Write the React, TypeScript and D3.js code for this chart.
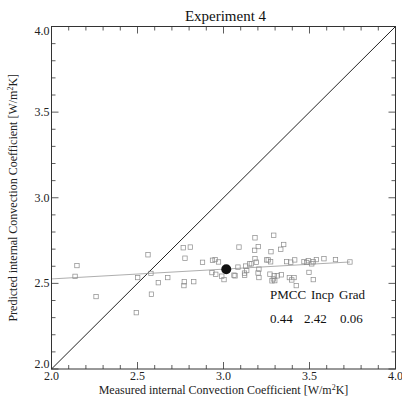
import React from 'react'
import * as d3 from 'd3'

const measured = [
  2.137, 2.148, 2.259, 2.493, 2.501, 2.561, 2.578, 2.581, 2.621, 2.676,
  2.766, 2.807, 2.776, 2.772, 2.770, 2.827, 2.878, 2.936, 2.951, 2.971,
  2.933, 2.955, 2.990, 3.003, 3.061, 3.067, 3.084, 3.090, 3.129, 3.135,
  3.122, 3.123, 3.152, 3.183, 3.292, 3.202, 3.181, 3.276, 3.333, 3.350,
  3.183, 3.191, 3.162, 3.251, 3.260, 3.274, 3.206, 3.201, 3.206, 3.270,
  3.295, 3.313, 3.336, 3.290, 3.282, 3.298, 3.383, 3.397, 3.410, 3.423,
  3.367, 3.391, 3.414, 3.468, 3.484, 3.493, 3.513, 3.522, 3.540, 3.584,
  3.651, 3.735, 3.497, 3.522,
]
const predicted = [
  2.541, 2.604, 2.423, 2.329, 2.534, 2.667, 2.558, 2.437, 2.504, 2.534,
  2.708, 2.712, 2.647, 2.509, 2.487, 2.510, 2.623, 2.635, 2.639, 2.625,
  2.563, 2.553, 2.542, 2.522, 2.548, 2.544, 2.595, 2.712, 2.601, 2.575,
  2.560, 2.548, 2.614, 2.766, 2.781, 2.715, 2.693, 2.685, 2.699, 2.727,
  2.645, 2.624, 2.614, 2.637, 2.637, 2.626, 2.583, 2.561, 2.534, 2.554,
  2.544, 2.544, 2.550, 2.526, 2.515, 2.516, 2.534, 2.520, 2.534, 2.487,
  2.627, 2.624, 2.637, 2.627, 2.622, 2.632, 2.614, 2.626, 2.639, 2.644,
  2.639, 2.625, 2.564, 2.522,
]
const meanPoint = [3.016, 2.583]
const fitX = [2.0, 3.735]
const fitY = [2.526, 2.625]
const statNames = ['PMCC', 'Incp', 'Grad']
const statValues = ['0.44', '2.42', '0.06']
const majorTicks = [2.0, 2.5, 3.0, 3.5, 4.0]

const W = 402
const H = 401
const left = 51.5
const right = 395.5
const top = 26.5
const bottom = 369

const App = () => {
  const x = d3.scaleLinear().domain([2, 4]).range([left, right])
  const y = d3.scaleLinear().domain([2, 4]).range([bottom, top])
  const minor = d3.range(20).map(i => 2 + i * 0.1)
  const font = "'Liberation Serif', 'Times New Roman', Times, serif"
  const axisCol = '#333'
  const fitLine = d3.line<number>().x((d, i) => x(fitX[i])).y((d, i) => y(fitY[i]))
  const statX = [270, 311, 339]
  const valX = [270, 304, 340]

  // y labels at the ends are kept inside the frame, like the original plot
  const yLabelY = (t: number) => (t === 2 ? y(t) - 1 : t === 4 ? y(t) + 8 : y(t) + 4)

  return (
    <svg width={W} height={H} style={{ position: 'absolute', left: 0, top: 0, fontFamily: font }}>
      <rect x={0} y={0} width={W} height={H} fill="#fff" />
      {/* diagonal 1:1 line */}
      <line x1={x(2)} y1={y(2)} x2={x(4)} y2={y(4)} stroke="#222" strokeWidth={1} />
      {/* fit line */}
      <path d={fitLine(fitX) || ''} fill="none" stroke="#999" strokeWidth={0.8} />
      {measured.map((m, i) => (
        <rect key={i} x={x(m) - 2.2} y={y(predicted[i]) - 2.2} width={4.4} height={4.4}
          fill="none" stroke="#8a8a8a" strokeWidth={0.7} />
      ))}
      <circle cx={x(meanPoint[0])} cy={y(meanPoint[1])} r={5} fill="#111" />

      {/* frame */}
      <rect x={left} y={top} width={right - left} height={bottom - top} fill="none" stroke={axisCol} strokeWidth={1} />
      {minor.map((t, i) => {
        const len = i % 5 === 0 ? 7 : 4
        return (
          <g key={i} stroke={axisCol} strokeWidth={0.8}>
            <line x1={x(t)} x2={x(t)} y1={bottom} y2={bottom - len} />
            <line x1={x(t)} x2={x(t)} y1={top} y2={top + len} />
            <line x1={left} x2={left + len} y1={y(t)} y2={y(t)} />
            <line x1={right} x2={right - len} y1={y(t)} y2={y(t)} />
          </g>
        )
      })}
      {majorTicks.map(t => (
        <g key={t} fontSize={12} fill="#222">
          <text x={x(t)} y={bottom + 11} textAnchor="middle">{t.toFixed(1)}</text>
          <text x={left - 2} y={yLabelY(t)} textAnchor="end">{t.toFixed(1)}</text>
        </g>
      ))}

      <text x={(left + right) / 2 + 2} y={21} textAnchor="middle" fontSize={15} fill="#111">Experiment 4</text>
      <text x={(left + right) / 2} y={394} textAnchor="middle" fontSize={12} fill="#222">
        Measured internal Convection Coefficient [W/m<tspan dy={-4} fontSize={8}>2</tspan><tspan dy={4}>K]</tspan>
      </text>
      <text transform={`translate(17,${(top + bottom) / 2}) rotate(-90)`} textAnchor="middle" fontSize={12} fill="#222">
        Predicted internal Convection Coefficient [W/m<tspan dy={-4} fontSize={8}>2</tspan><tspan dy={4}>K]</tspan>
      </text>

      {statNames.map((s, i) => (
        <text key={s} x={statX[i]} y={299} fontSize={13} fill="#111">{s}</text>
      ))}
      {statValues.map((s, i) => (
        <text key={i} x={valX[i]} y={323} fontSize={13} fill="#111">{s}</text>
      ))}
    </svg>
  )
}

export default App
